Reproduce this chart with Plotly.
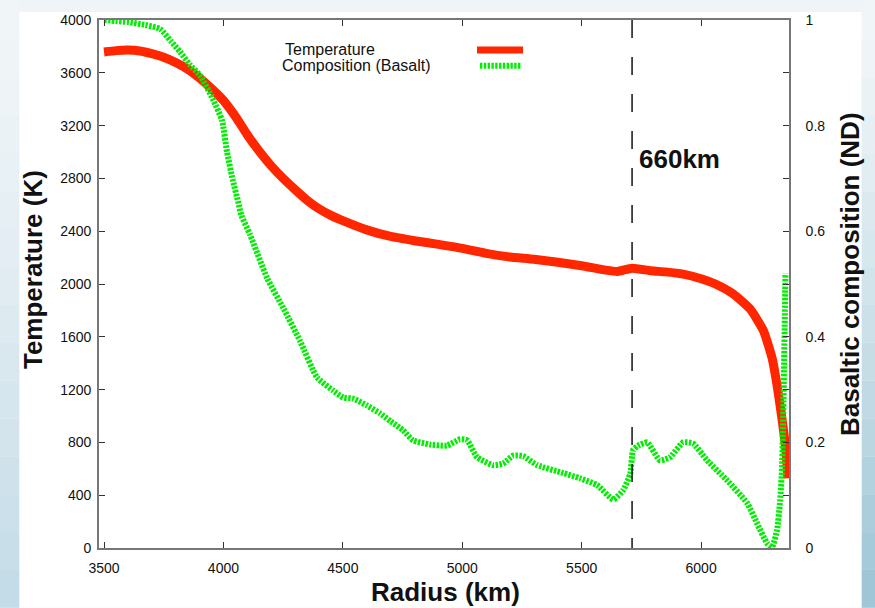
import plotly.graph_objects as go

# ---------------- data ----------------
radius_T = [3500, 3550, 3600, 3650, 3700, 3750, 3800, 3850, 3900, 3950, 4000, 4050,
            4100, 4150, 4200, 4250, 4300, 4350, 4400, 4450, 4500, 4600, 4700, 4800,
            4900, 5000, 5100, 5200, 5300, 5400, 5500, 5600, 5650, 5711, 5790, 5850,
            5925, 6000, 6060, 6134, 6205, 6260, 6297, 6320, 6340, 6354, 6363]
temperature = [3758, 3768, 3772, 3765, 3745, 3718, 3678, 3628, 3560, 3480, 3390, 3270,
               3130, 3005, 2895, 2800, 2715, 2635, 2570, 2520, 2480, 2410, 2360, 2328,
               2300, 2270, 2232, 2205, 2188, 2165, 2138, 2105, 2095, 2120, 2100, 2092,
               2075, 2040, 2000, 1925, 1811, 1650, 1440, 1210, 960, 760, 528]

radius_C = [3500, 3550, 3600, 3680, 3735, 3780, 3818, 3860, 3902, 3956, 3994, 4015,
            4040, 4061, 4075, 4111, 4183, 4250, 4321, 4392, 4460, 4501, 4543, 4600,
            4656, 4700, 4752, 4794, 4865, 4936, 4991, 5020, 5062, 5129, 5171, 5213,
            5255, 5313, 5422, 5493, 5565, 5632, 5673, 5703, 5715, 5736, 5774, 5828,
            5870, 5925, 5966, 6025, 6109, 6193, 6234, 6276, 6297, 6318, 6331, 6339,
            6345, 6350, 6353]
composition = [1.0, 0.998, 0.996, 0.99, 0.983, 0.96, 0.94, 0.915, 0.895, 0.85, 0.81, 0.75,
               0.695, 0.657, 0.63, 0.594, 0.511, 0.455, 0.392, 0.323, 0.298, 0.285, 0.283, 0.27,
               0.255, 0.24, 0.223, 0.204, 0.196, 0.194, 0.206, 0.204, 0.172, 0.157, 0.160, 0.175,
               0.174, 0.157, 0.142, 0.132, 0.119, 0.092, 0.109, 0.14, 0.185, 0.194, 0.2, 0.166,
               0.172, 0.2, 0.198, 0.166, 0.128, 0.085, 0.047, 0.009, 0.002, 0.034, 0.09, 0.153,
               0.28, 0.42, 0.52]

x_ticks = [3500, 4000, 4500, 5000, 5500, 6000]
y_ticks = [0, 400, 800, 1200, 1600, 2000, 2400, 2800, 3200, 3600, 4000]
y2_ticks = [0, 0.1, 0.2, 0.3, 0.4, 0.5, 0.6, 0.7, 0.8, 0.9, 1.0]
y2_labels = ["0", "", "0.2", "", "0.4", "", "0.6", "", "0.8", "", "1"]
boundary_660 = 5711

FONT = "Liberation Sans, Arial, Helvetica, sans-serif"
RED = "#ff2600"
GREEN = "#00ee00"

fig = go.Figure()
fig.add_trace(go.Scatter(x=radius_T, y=temperature, mode="lines", name="Temperature",
                         line=dict(color=RED, width=9, shape="spline", smoothing=0.5),
                         yaxis="y", hoverinfo="skip"))
fig.add_trace(go.Scatter(x=radius_C, y=composition, mode="lines", name="Composition (Basalt)",
                         line=dict(color=GREEN, width=6, dash="2.4px,1.4px", shape="spline", smoothing=0.5),
                         yaxis="y2", hoverinfo="skip"))

# ---------------- background decoration ----------------
W, H = 875, 608
L, R, T, B = 99, 86, 18, 60
PW, PH = W - L - R, H - T - B


def px_x(p):
    return (p - L) / PW


def px_y(p):
    return (H - B - p) / PH


shapes = []


def lerp(c1, c2, t):
    return "rgb(%d,%d,%d)" % tuple(round(a + (b - a) * t) for a, b in zip(c1, c2))


n = 16
for i in range(n):
    t = i / (n - 1)
    y0p, y1p = i * H / n, (i + 1) * H / n
    shapes.append(dict(type="rect", xref="paper", yref="paper", layer="below",
                       x0=px_x(0), x1=px_x(19.5), y0=px_y(y1p), y1=px_y(y0p),
                       fillcolor=lerp((240, 245, 248), (196, 220, 231), t ** 1.3), line=dict(width=0)))
    shapes.append(dict(type="rect", xref="paper", yref="paper", layer="below",
                       x0=px_x(861.5), x1=px_x(W), y0=px_y(y1p), y1=px_y(y0p),
                       fillcolor=lerp((240, 245, 248), (158, 198, 214), t ** 1.3), line=dict(width=0)))
shapes.append(dict(type="rect", xref="paper", yref="paper", layer="below",
                   x0=px_x(19.5), x1=px_x(861.5), y0=px_y(H), y1=px_y(10),
                   fillcolor="white", line=dict(width=0)))

# 660 km line
shapes.append(dict(type="line", xref="x", yref="paper", x0=boundary_660, x1=boundary_660, y0=1, y1=0,
                   line=dict(color="#222", width=1.6, dash="18px,19px")))

# legend samples
shapes.append(dict(type="line", xref="paper", yref="paper", x0=px_x(477), x1=px_x(523),
                   y0=px_y(48), y1=px_y(48), line=dict(color=RED, width=7)))
shapes.append(dict(type="line", xref="paper", yref="paper", x0=px_x(480), x1=px_x(522),
                   y0=px_y(64), y1=px_y(64), line=dict(color=GREEN, width=6, dash="2.4px,1.4px")))

annotations = [
    dict(text="Temperature", x=px_x(283), y=px_y(48), xref="paper", yref="paper",
         xanchor="left", yanchor="middle", showarrow=False, font=dict(size=16, color="#111", family=FONT)),
    dict(text="Composition (Basalt)", x=px_x(280), y=px_y(64), xref="paper", yref="paper",
         xanchor="left", yanchor="middle", showarrow=False, font=dict(size=16, color="#111", family=FONT)),
    dict(text="<b>660km</b>", x=boundary_660, y=px_y(158), xref="x", yref="paper", xshift=5,
         xanchor="left", yanchor="middle", showarrow=False, font=dict(size=26, color="#111", family=FONT)),
    dict(text="<b>Temperature (K)</b>", x=px_x(33), y=px_y(269), xref="paper", yref="paper",
         textangle=-90, xanchor="center", yanchor="middle", showarrow=False,
         font=dict(size=26, color="#111", family=FONT)),
    dict(text="<b>Basaltic composition (ND)</b>", x=px_x(850), y=px_y(273), xref="paper", yref="paper",
         textangle=-90, xanchor="center", yanchor="middle", showarrow=False,
         font=dict(size=26, color="#111", family=FONT)),
    dict(text="<b>Radius (km)</b>", x=px_x(446), y=px_y(592), xref="paper", yref="paper",
         xanchor="center", yanchor="middle", showarrow=False,
         font=dict(size=26, color="#111", family=FONT)),
]

axis_common = dict(showgrid=False, zeroline=False, ticks="inside", ticklen=6, tickwidth=1.2,
                   tickcolor="#333", showline=True, linecolor="#777", linewidth=1.6,
                   tickfont=dict(size=14, color="#111", family=FONT))

fig.update_layout(
    width=W, height=H,
    margin=dict(l=L, r=R, t=T, b=B, pad=0),
    paper_bgcolor="#eff4f7", plot_bgcolor="rgba(0,0,0,0)",
    showlegend=False,
    xaxis=dict(range=[3479, 6368], tickvals=x_ticks, mirror="ticks", ticklabelstandoff=6, **axis_common),
    yaxis=dict(range=[0, 4000], tickvals=y_ticks, mirror=True, ticklabelstandoff=3, **axis_common),
    yaxis2=dict(range=[0, 1], tickvals=y2_ticks, ticktext=y2_labels, overlaying="y", side="right",
                ticklabelstandoff=12, **axis_common),
    shapes=shapes, annotations=annotations,
)

fig.write_html("out.html")
